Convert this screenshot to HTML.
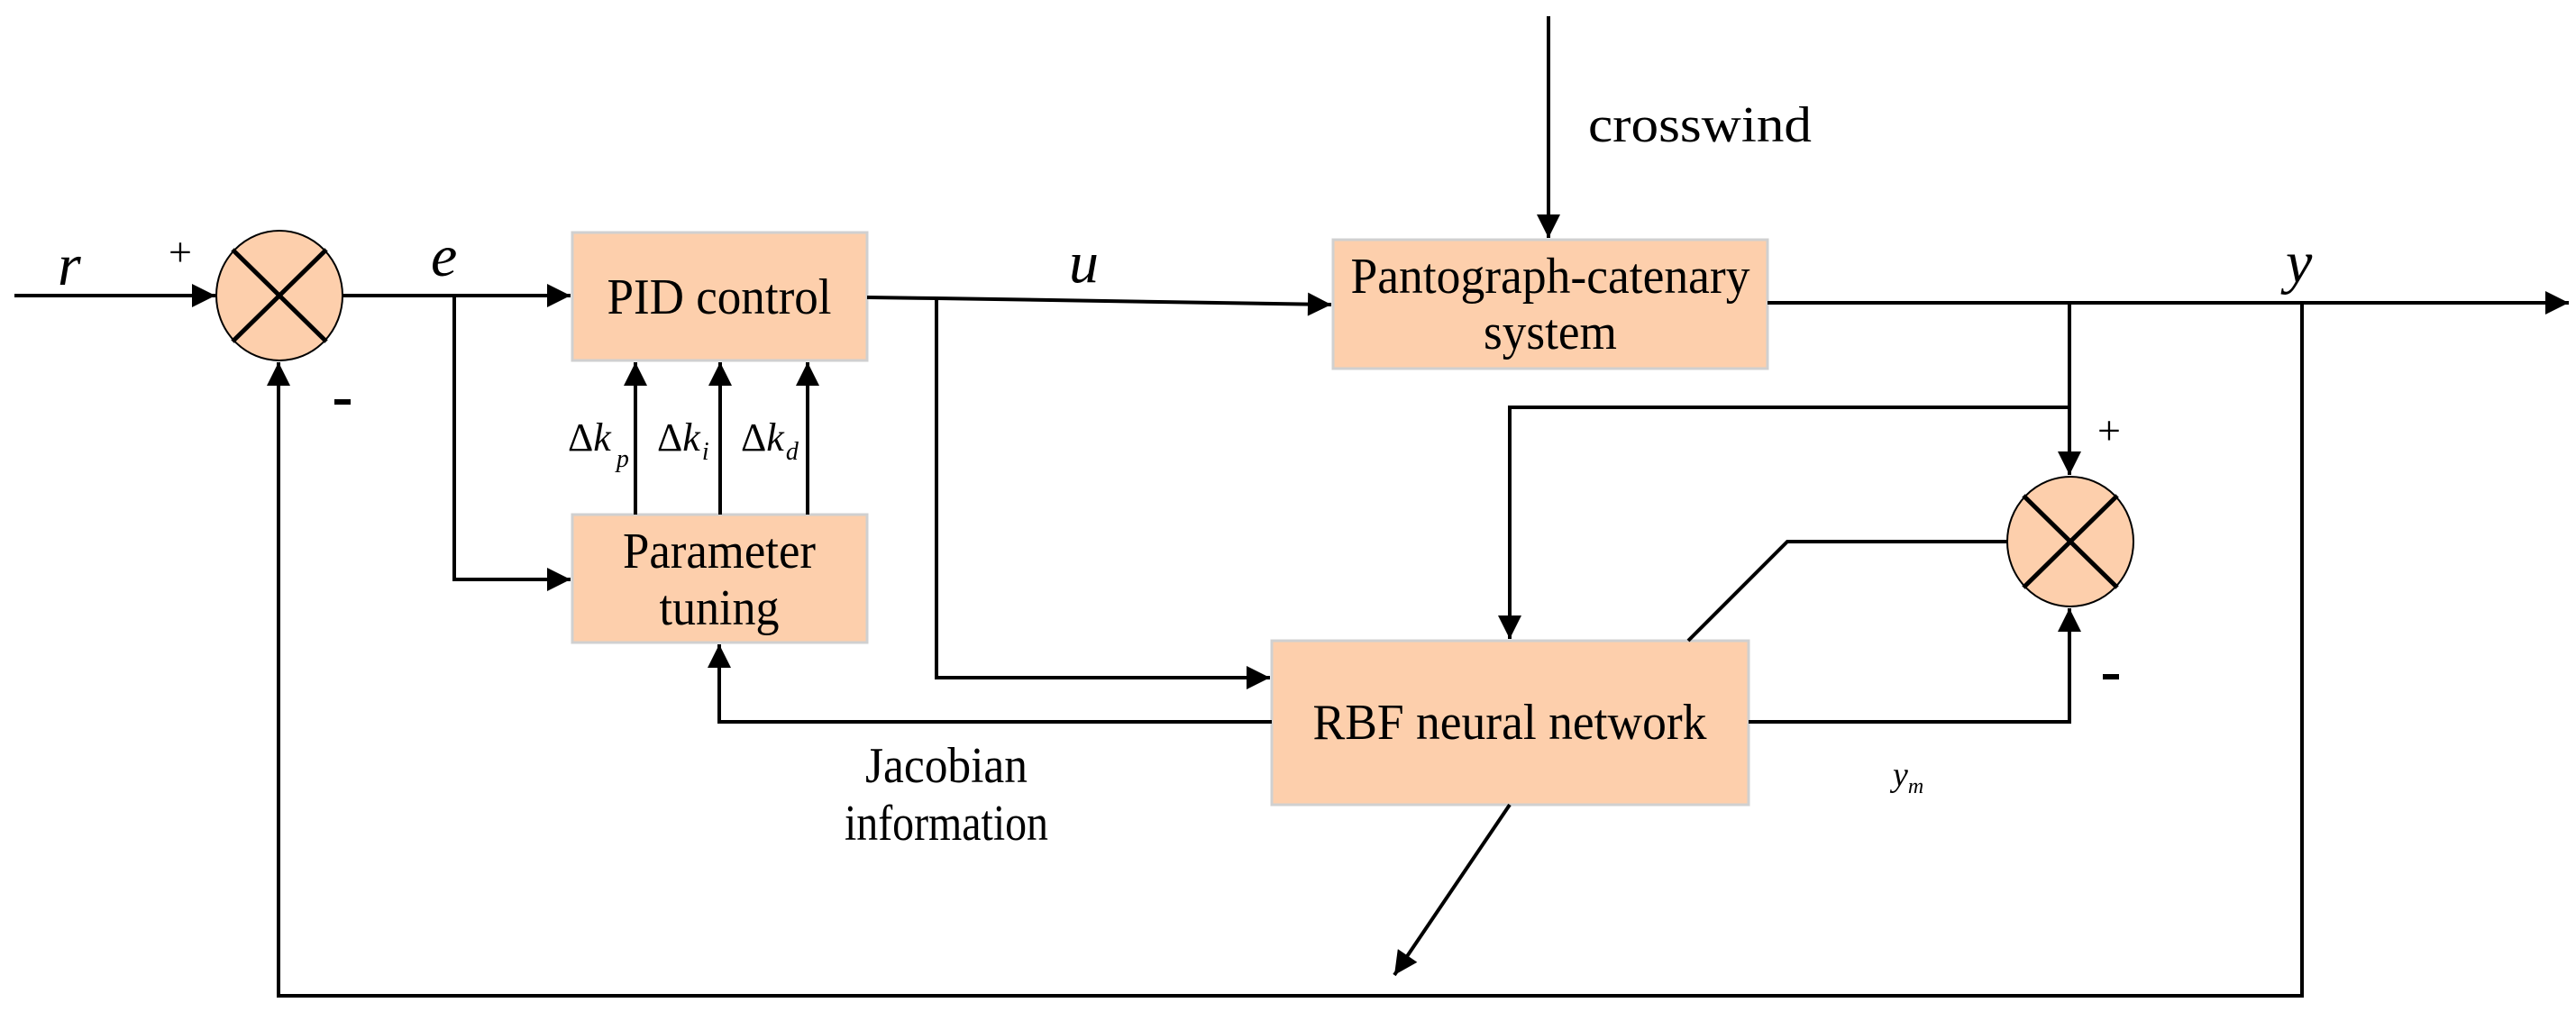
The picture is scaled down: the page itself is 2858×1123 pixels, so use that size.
<!DOCTYPE html>
<html><head><meta charset="utf-8"><style>
html,body{margin:0;padding:0;background:#fff;}
svg{display:block}
text{font-family:"Liberation Serif",serif;fill:#000}
</style></head><body>
<svg width="2858" height="1123" viewBox="0 0 2858 1123" xmlns="http://www.w3.org/2000/svg">
<defs>
<marker id="a" viewBox="0 0 10 10" refX="10" refY="5" markerWidth="7.5" markerHeight="6.5" markerUnits="strokeWidth" orient="auto"><path d="M0,0 L10,5 L0,10 z" fill="#000"/></marker>
</defs>
<g fill="#fdcfac" stroke="#d0d0d0" stroke-width="3">
<rect x="635" y="258" width="327" height="142"/>
<rect x="635" y="571" width="327" height="142"/>
<rect x="1479" y="266" width="482" height="143"/>
<rect x="1411" y="711" width="529" height="182"/>
</g>
<g fill="#fdcfac" stroke="#000" stroke-width="2">
<ellipse cx="310" cy="328" rx="70" ry="72"/>
<ellipse cx="2297" cy="601" rx="70" ry="72"/>
</g>
<g stroke="#000" stroke-width="5" fill="none">
<line x1="258" y1="277" x2="362" y2="379"/><line x1="362" y1="277" x2="258" y2="379"/>
<line x1="2245" y1="550" x2="2349" y2="652"/><line x1="2349" y1="550" x2="2245" y2="652"/>
</g>
<g stroke="#000" stroke-width="4" fill="none">
<line x1="16" y1="328" x2="239" y2="328" marker-end="url(#a)"/>
<line x1="380" y1="328" x2="633" y2="328" marker-end="url(#a)"/>
<polyline points="504,328 504,643 633,643" marker-end="url(#a)"/>
<line x1="705" y1="571" x2="705" y2="402" marker-end="url(#a)"/>
<line x1="799" y1="571" x2="799" y2="402" marker-end="url(#a)"/>
<line x1="896" y1="571" x2="896" y2="402" marker-end="url(#a)"/>
<polyline points="962,330 1039,331 1477,338" marker-end="url(#a)"/>
<polyline points="1039,331 1039,752 1409,752" marker-end="url(#a)"/>
<line x1="1718" y1="18" x2="1718" y2="264" marker-end="url(#a)"/>
<line x1="1961" y1="336" x2="2850" y2="336" marker-end="url(#a)"/>
<line x1="2296" y1="336" x2="2296" y2="527" marker-end="url(#a)"/>
<polyline points="2296,452 1675,452 1675,709" marker-end="url(#a)"/>
<polyline points="2227,601 1983,601 1873,711"/>
<polyline points="1940,801 2296,801 2296,675" marker-end="url(#a)"/>
<polyline points="1411,801 798,801 798,715" marker-end="url(#a)"/>
<line x1="1675" y1="893" x2="1547" y2="1082" marker-end="url(#a)"/>
<polyline points="2554,336 2554,1105 309,1105 309,402" marker-end="url(#a)"/>
</g>
<g font-size="56" text-anchor="middle" lengthAdjust="spacingAndGlyphs">
<text x="798" y="348" textLength="249" lengthAdjust="spacingAndGlyphs">PID control</text>
<text x="798" y="630" textLength="214" lengthAdjust="spacingAndGlyphs">Parameter</text>
<text x="798" y="693" textLength="133" lengthAdjust="spacingAndGlyphs">tuning</text>
<text x="1720" y="325" textLength="443" lengthAdjust="spacingAndGlyphs">Pantograph-catenary</text>
<text x="1720" y="387" textLength="148" lengthAdjust="spacingAndGlyphs">system</text>
<text x="1675" y="820" textLength="437" lengthAdjust="spacingAndGlyphs">RBF neural network</text>
<text x="1050" y="868" textLength="180" lengthAdjust="spacingAndGlyphs">Jacobian</text>
<text x="1050" y="932" textLength="226" lengthAdjust="spacingAndGlyphs">information</text>
</g>
<text x="1762" y="157" font-size="56" textLength="248" lengthAdjust="spacingAndGlyphs">crosswind</text>
<g font-style="italic" font-size="66">
<text x="64" y="316">r</text>
<text x="478" y="306">e</text>
<text x="1186" y="313">u</text>
<text x="2536" y="313">y</text>
</g>
<text x="2100" y="872" font-style="italic" font-size="38">y<tspan font-size="24" dy="8">m</tspan></text>
<g font-size="44">
<text x="630" y="500">Δ<tspan font-style="italic">k</tspan><tspan font-style="italic" font-size="28" dx="6" dy="18">p</tspan></text>
<text x="729" y="500">Δ<tspan font-style="italic">k</tspan><tspan font-style="italic" font-size="28" dx="2" dy="10">i</tspan></text>
<text x="822" y="500">Δ<tspan font-style="italic">k</tspan><tspan font-style="italic" font-size="28" dx="2" dy="10">d</tspan></text>
</g>
<g font-size="46" font-family="Liberation Sans">
<text x="187" y="295">+</text>
<text x="2327" y="493">+</text>
</g>
<rect x="371" y="443" width="18" height="6" fill="#000"/>
<rect x="2333" y="748" width="18" height="6" fill="#000"/>
</svg>
</body></html>
